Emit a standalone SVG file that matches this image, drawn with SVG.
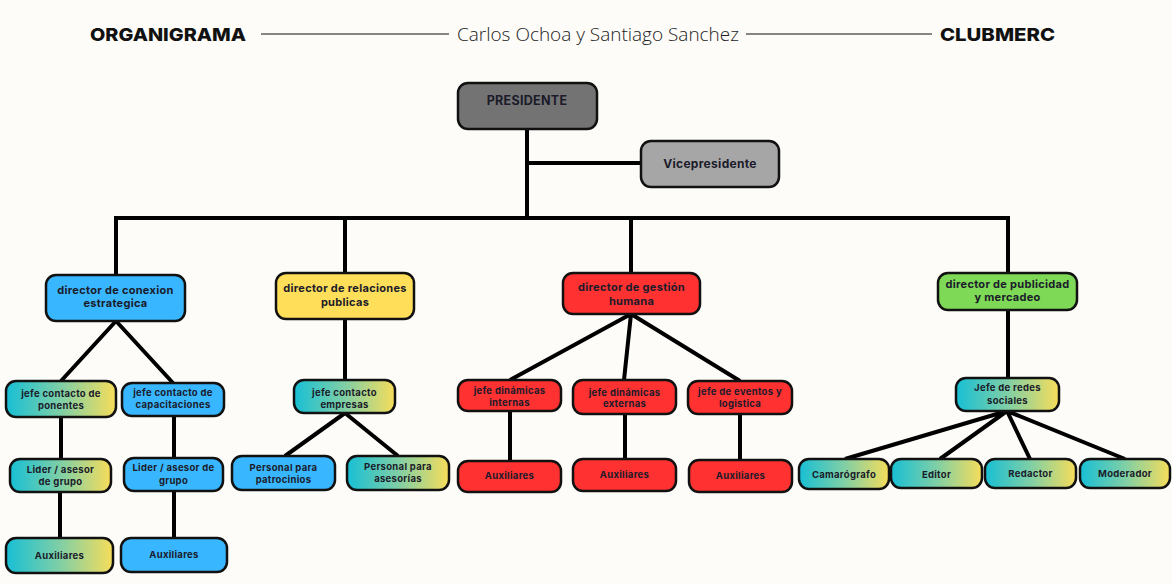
<svg xmlns="http://www.w3.org/2000/svg" width="1172" height="584" viewBox="0 0 1172 584">
<defs>
<linearGradient id="g" x1="0" y1="0" x2="1" y2="0">
<stop offset="0" stop-color="#17bfd5"/>
<stop offset="0.5" stop-color="#7fcfa6"/>
<stop offset="1" stop-color="#f7dd5a"/>
</linearGradient>
<style>
.n{stroke:#111;stroke-width:2.5}
.t{font-family:Inter,"Liberation Sans",sans-serif;font-weight:700;fill:#1b1b2a;text-anchor:middle;letter-spacing:0.3px}
.s{font-size:9.5px}
.d{font-size:11px}
.c{stroke:#000;stroke-width:4;fill:none}
.h{font-family:Inter,"Liberation Sans",sans-serif;font-weight:800;font-size:18px;fill:#111}
</style>
</defs>
<rect width="1172" height="584" fill="#fdfcf8"/>
<g id="header">
<text class="h" x="90" y="41" textLength="156" lengthAdjust="spacingAndGlyphs">ORGANIGRAMA</text>
<line x1="261" y1="34" x2="449" y2="34" stroke="#111" stroke-width="1.2"/>
<text x="598" y="41" font-family="'Open Sans','Liberation Sans',sans-serif" font-size="18" font-weight="300" fill="#222" text-anchor="middle" textLength="282" lengthAdjust="spacingAndGlyphs">Carlos Ochoa y Santiago Sanchez</text>
<line x1="746" y1="34" x2="932" y2="34" stroke="#111" stroke-width="1.2"/>
<text class="h" x="940" y="41" textLength="115" lengthAdjust="spacingAndGlyphs">CLUBMERC</text>
</g>
<g id="connectors">
<path class="c" d="M527 129V218M527 163H641M114 218H1010M116 218V275M345 218V273M631 218V273M1008 218V273"/>
<path class="c" d="M116 321L61 381M116 321L173 383M61 417V459M174 416V458M60 492V538M174 491V538"/>
<path class="c" d="M345 319V380M345 413L285 456M345 413L398 456"/>
<path class="c" d="M631 314L510 380M631 314L624 380M631 314L740 381M510 411V461M625 414V459M740 414V460"/>
<path class="c" d="M1008 310V378M1007 411L845 459M1007 411L940 459M1007 411L1030 459M1007 411L1125 459"/>
</g>
<g id="presidente"><rect class="n" x="458" y="83" width="139" height="46" rx="10" fill="#737373"/><text class="t" x="527" y="105" font-size="12.5">PRESIDENTE</text></g>
<g id="vicepresidente"><rect class="n" x="641" y="141" width="138" height="46" rx="10" fill="#a6a6a6"/><text class="t" x="710" y="168" font-size="12">Vicepresidente</text></g>
<g id="dir-conexion"><rect class="n" x="46" y="275" width="139" height="46" rx="10" fill="#38b6ff"/><text class="t d" x="115.5" y="294">director de conexion</text><text class="t d" x="115.5" y="307">estrategica</text></g>
<g id="dir-relaciones"><rect class="n" x="276" y="273" width="138" height="46" rx="10" fill="#ffde59"/><text class="t d" x="345" y="292">director de relaciones</text><text class="t d" x="345" y="306">publicas</text></g>
<g id="dir-gestion"><rect class="n" x="563" y="273" width="137" height="41" rx="10" fill="#ff3131"/><text class="t d" x="631.5" y="291">director de gestión</text><text class="t d" x="631.5" y="305">humana</text></g>
<g id="dir-publicidad"><rect class="n" x="938" y="273" width="139" height="37" rx="10" fill="#7ed957"/><text class="t d" x="1007.5" y="288">director de publicidad</text><text class="t d" x="1007.5" y="301">y mercadeo</text></g>
<g id="jefe-ponentes"><rect class="n" x="6" y="381" width="110" height="36" rx="10" fill="url(#g)"/><text class="t s" x="61" y="397">jefe contacto de</text><text class="t s" x="61" y="409">ponentes</text></g>
<g id="jefe-capacitaciones"><rect class="n" x="122" y="383" width="102" height="33" rx="10" fill="#38b6ff"/><text class="t s" x="173" y="396">jefe contacto de</text><text class="t s" x="173" y="408">capacitaciones</text></g>
<g id="lider-1"><rect class="n" x="10" y="459" width="101" height="33" rx="10" fill="url(#g)"/><text class="t s" x="60.5" y="473">Lider / asesor</text><text class="t s" x="60.5" y="485">de grupo</text></g>
<g id="lider-2"><rect class="n" x="124" y="458" width="99" height="33" rx="10" fill="#38b6ff"/><text class="t s" x="173.5" y="471">Lider / asesor de</text><text class="t s" x="173.5" y="484">grupo</text></g>
<g id="aux-1"><rect class="n" x="6" y="538" width="107" height="35" rx="10" fill="url(#g)"/><text class="t s" x="59.5" y="559">Auxiliares</text></g>
<g id="aux-2"><rect class="n" x="121" y="538" width="106" height="34" rx="10" fill="#38b6ff"/><text class="t s" x="174" y="558">Auxiliares</text></g>
<g id="jefe-empresas"><rect class="n" x="294" y="380" width="101" height="33" rx="10" fill="url(#g)"/><text class="t s" x="344.5" y="396">jefe contacto</text><text class="t s" x="344.5" y="408">empresas</text></g>
<g id="personal-patrocinios"><rect class="n" x="232" y="456" width="103" height="34" rx="10" fill="#38b6ff"/><text class="t s" x="283.5" y="471">Personal para</text><text class="t s" x="283.5" y="483">patrocinios</text></g>
<g id="personal-asesorias"><rect class="n" x="347" y="456" width="102" height="34" rx="10" fill="url(#g)"/><text class="t s" x="398" y="470">Personal para</text><text class="t s" x="398" y="482">asesorías</text></g>
<g id="jefe-internas"><rect class="n" x="458" y="380" width="103" height="31" rx="10" fill="#ff3131"/><text class="t s" x="509.5" y="394">jefe dinámicas</text><text class="t s" x="509.5" y="406">internas</text></g>
<g id="jefe-externas"><rect class="n" x="573" y="380" width="103" height="34" rx="10" fill="#ff3131"/><text class="t s" x="624.5" y="396">jefe dinámicas</text><text class="t s" x="624.5" y="407">externas</text></g>
<g id="jefe-eventos"><rect class="n" x="688" y="381" width="104" height="33" rx="10" fill="#ff3131"/><text class="t s" x="740" y="395">jefe de eventos y</text><text class="t s" x="740" y="407">logistica</text></g>
<g id="aux-3"><rect class="n" x="458" y="461" width="103" height="31" rx="10" fill="#ff3131"/><text class="t s" x="509.5" y="479">Auxiliares</text></g>
<g id="aux-4"><rect class="n" x="573" y="459" width="103" height="32" rx="10" fill="#ff3131"/><text class="t s" x="624.5" y="478">Auxiliares</text></g>
<g id="aux-5"><rect class="n" x="689" y="460" width="103" height="32" rx="10" fill="#ff3131"/><text class="t s" x="740.5" y="479">Auxiliares</text></g>
<g id="jefe-redes"><rect class="n" x="956" y="378" width="103" height="33" rx="10" fill="url(#g)"/><text class="t s" x="1007.5" y="391">Jefe de redes</text><text class="t s" x="1007.5" y="404">sociales</text></g>
<g id="camarografo"><rect class="n" x="799" y="459" width="90" height="30" rx="10" fill="url(#g)"/><text class="t s" x="844" y="478">Camarógrafo</text></g>
<g id="editor"><rect class="n" x="891" y="459" width="91" height="29" rx="10" fill="url(#g)"/><text class="t s" x="936.5" y="478">Editor</text></g>
<g id="redactor"><rect class="n" x="985" y="459" width="91" height="29" rx="10" fill="url(#g)"/><text class="t s" x="1030.5" y="477">Redactor</text></g>
<g id="moderador"><rect class="n" x="1080" y="459" width="90" height="29" rx="10" fill="url(#g)"/><text class="t s" x="1125" y="477">Moderador</text></g>
</svg>
